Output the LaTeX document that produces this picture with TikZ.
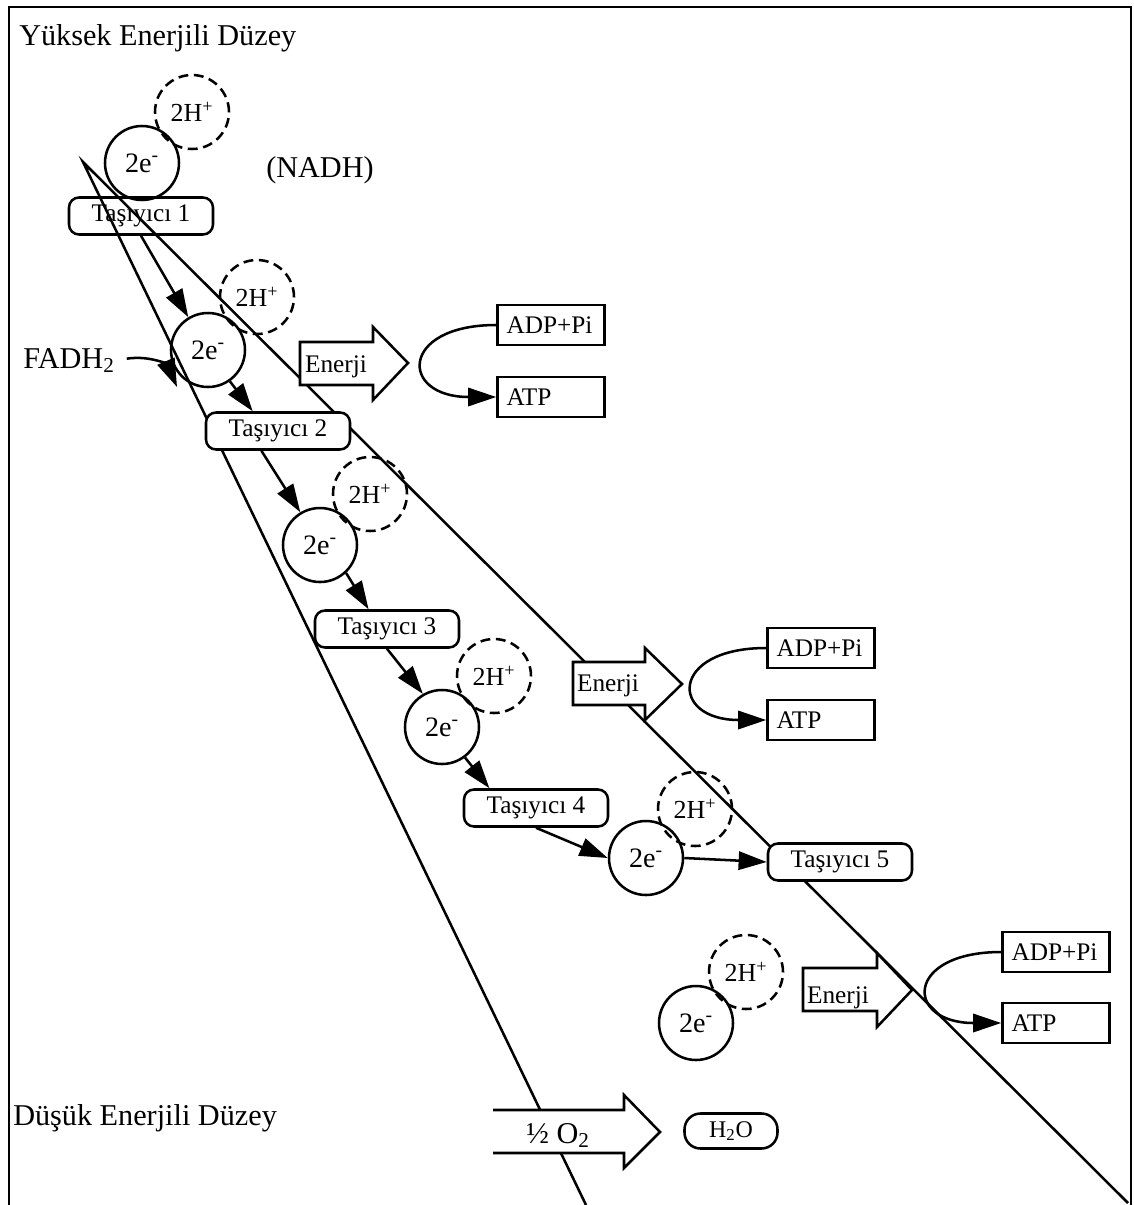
\documentclass[tikz,border=0pt]{standalone}
\usepackage{fontspec}
\setmainfont{Liberation Serif}
\usetikzlibrary{arrows.meta}

\tikzset{
  carrier/.style={draw, rounded corners=2.5mm, minimum width=36mm, minimum height=9.25mm, inner sep=0pt, font=\fontsize{18}{20}\selectfont},
  carrierw/.style={carrier, fill=white},
  elec/.style={draw, circle, minimum size=18.5mm, inner sep=0pt, font=\fontsize{20}{22}\selectfont},
  proton/.style={draw, circle, dash pattern=on 7pt off 4pt, minimum size=18.5mm, inner sep=0pt, font=\fontsize{18.5}{20}\selectfont},
  atpbox/.style={draw, minimum height=10mm, text width=22.25mm, inner xsep=2.25mm, inner ysep=0pt, align=left, font=\fontsize{18}{20}\selectfont},
  bigarrow/.style={fill=white, line join=miter},
  labeltext/.style={inner sep=0pt, font=\fontsize{21.5}{24}\selectfont},
  arrtext/.style={inner sep=0pt, anchor=base, font=\fontsize{18}{20}\selectfont},
  arr/.style={-{Triangle[length=20pt,width=13pt]}}
}

\begin{document}
\begin{tikzpicture}[x=0.25mm,y=-0.25mm,line width=1.8pt]

\useasboundingbox (0,0) rectangle (1134,1205);

% frame
\draw[line width=1.4pt] (9,1205) -- (9,7) -- (1131,7) -- (1131,1205);

% levels
\node[labeltext, anchor=base west] (high) at (18,45) {Yüksek Enerjili Düzey};
\node[labeltext, anchor=base west] (low) at (12,1125) {Düşük Enerjili Düzey};

% the two long lines
\coordinate (apex) at (83,162);
\coordinate (lowA) at (586,1205);
\coordinate (lowB) at (1128,1203);
\draw (lowA) -- (apex) -- (lowB);

% step 1 (NADH)
\node[proton] (h1) at (192,112) {2H\textsuperscript{+}};
\node[elec] (e1) at (142,163) {2e\textsuperscript{-}};
\node[labeltext, anchor=base west] (nadh) at (265,177) {(NADH)};
\node[carrier] (t1) at (141,216) {Taşıyıcı 1};

% step 2
\node[proton] (h2) at (257,297) {2H\textsuperscript{+}};
\node[elec] (e2) at (208,350) {2e\textsuperscript{-}};
\node[carrierw] (t2) at (278,431) {Taşıyıcı 2};
\draw[arr] (t1.south) -- (e2.121);
\draw[arr] (e2.305) -- (t2.142);

% FADH2 enters here
\node[labeltext, anchor=base west] (fadh) at (22,368) {FADH\textsubscript{2}};
\coordinate (fadhend) at (177,387);
\draw[arr, shorten <=2.75mm] (fadh.east) .. controls (152,355) and (168,366) .. (fadhend);

% energy 1
\draw[bigarrow] (300,342) -- (373,342) -- (373,327) -- (408,363) -- (373,400) -- (373,385) -- (300,385) -- cycle;
\node[arrtext] (en1) at (336,372) {Enerji};
\node[atpbox] (adp1) at (551,325) {ADP+Pi};
\node[atpbox] (atp1) at (551,397) {ATP};
\draw[arr] (adp1.west) .. controls +(-97,0) and +(-97,0) .. (atp1.west);

% step 3
\node[proton] (h3) at (370,494) {2H\textsuperscript{+}};
\node[elec] (e3) at (320,545) {2e\textsuperscript{-}};
\node[carrierw] (t3) at (387,629) {Taşıyıcı 3};
\draw[arr] (t2.230) -- (e3.121);
\draw[arr] (e3.313) -- (t3.133);

% step 4
\node[proton] (h4) at (494,676) {2H\textsuperscript{+}};
\node[elec] (e4) at (442,727) {2e\textsuperscript{-}};
\node[carrierw] (t4) at (536,808) {Taşıyıcı 4};
\draw[arr] (t3.south) -- (e4.120);
\draw[arr] (e4.307) -- (t4.157);

% energy 2
\draw[bigarrow] (573,662) -- (645,662) -- (645,648) -- (682,684) -- (645,720) -- (645,705) -- (573,705) -- cycle;
\node[arrtext] (en2) at (608,691) {Enerji};
\node[atpbox] (adp2) at (821,648) {ADP+Pi};
\node[atpbox] (atp2) at (821,720) {ATP};
\draw[arr] (adp2.west) .. controls +(-97,0) and +(-97,0) .. (atp2.west);

% step 5
\node[proton] (h5) at (695,809) {2H\textsuperscript{+}};
\node[elec] (e5) at (646,858) {2e\textsuperscript{-}};
\node[carrierw] (t5) at (840,862) {Taşıyıcı 5};
\draw[arr] (t4.south) -- (e5.west);
\draw[arr] (e5.east) -- (t5.west);

% step 6
\node[proton] (h6) at (746,972) {2H\textsuperscript{+}};
\node[elec] (e6) at (696,1023) {2e\textsuperscript{-}};

% energy 3
\draw[bigarrow] (803,968) -- (877,968) -- (877,953) -- (912,990) -- (877,1027) -- (877,1011) -- (803,1011) -- cycle;
\node[arrtext] (en3) at (838,1003) {Enerji};
\node[atpbox] (adp3) at (1056,952) {ADP+Pi};
\node[atpbox] (atp3) at (1056,1023) {ATP};
\draw[arr] (adp3.west) .. controls +(-97,0) and +(-97,0) .. (atp3.west);

% oxygen
\draw[bigarrow] (493,1110) -- (624,1110) -- (624,1095) -- (660,1132) -- (624,1168) -- (624,1153) -- (493,1153);
\node[labeltext, anchor=base] (oxy) at (558,1143) {½ O\textsubscript{2}};
\node[draw, rounded corners=4mm, minimum width=23.25mm, minimum height=8.75mm, inner sep=0pt, font=\fontsize{17}{20}\selectfont] (water) at (731,1131) {H\textsubscript{2}O};

\end{tikzpicture}
\end{document}
